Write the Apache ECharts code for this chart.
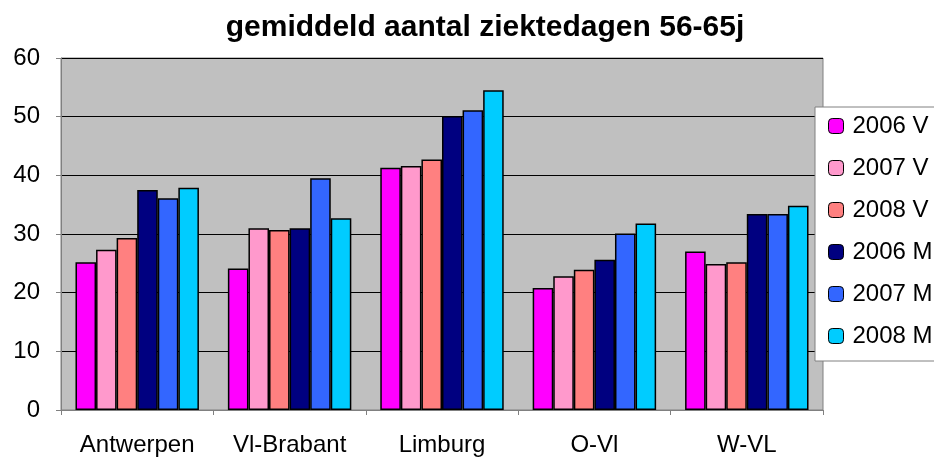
<!DOCTYPE html>
<html>
  <head>
    <meta charset="utf-8" />
    <title>gemiddeld aantal ziektedagen 56-65j</title>
    <script src="https://cdn.jsdelivr.net/npm/echarts@6/dist/echarts.min.js"></script>
    <style>
      body { margin: 0; background: #fff; }
      #chart { width: 934px; height: 461px; }
    </style>
  </head>
  <body>
    <div id="chart"></div>
    <script type="text/javascript">
      // categories (provinces) and series
      var regions = ['Antwerpen', 'Vl-Brabant', 'Limburg', 'O-Vl', 'W-VL'];
      var seriesNames = ['2006 V', '2007 V', '2008 V', '2006 M', '2007 M', '2008 M'];
      var colors = ['#ff00ff', '#ff99cc', '#ff8080', '#000080', '#3366ff', '#00ccff'];

      var v2006 = [25.2, 24.1, 41.3, 20.8, 27.0];
      var v2007 = [27.3, 31.0, 41.6, 22.8, 24.9];
      var v2008 = [29.3, 30.7, 42.7, 23.9, 25.2];
      var m2006 = [37.5, 31.0, 50.1, 25.6, 33.4];
      var m2007 = [36.1, 39.5, 51.1, 30.1, 33.4];
      var m2008 = [37.9, 32.7, 54.5, 31.8, 34.8];
      var values = [v2006, v2007, v2008, m2006, m2007, m2008];

      var font = 'Liberation Sans, Arial, sans-serif';

      var series = seriesNames.map(function (name, i) {
        return {
          name: name,
          type: 'bar',
          data: values[i],
          barGap: '0%',
          barCategoryGap: '19%',
          itemStyle: { color: colors[i], borderColor: '#000', borderWidth: 1.5 },
          emphasis: { disabled: true }
        };
      });

      var chart = echarts.init(document.getElementById('chart'));
      chart.setOption({
        animation: false,
        title: {
          text: 'gemiddeld aantal ziektedagen 56-65j',
          left: 480,
          top: 8,
          textAlign: 'center',
          textStyle: { fontFamily: font, fontSize: 30, fontWeight: 'bold', color: '#000' }
        },
        legend: {
          orient: 'vertical',
          left: 815,
          top: 107,
          itemWidth: 15,
          itemHeight: 15,
          itemGap: 18,
          padding: [7, 40, 13, 13],
          backgroundColor: '#fff',
          borderColor: '#808080',
          borderWidth: 1,
          textStyle: { fontFamily: font, fontSize: 24, color: '#000', lineHeight: 24, padding: [0, 0, 0, 4] },
          itemStyle: { borderWidth: 1, borderColor: '#000' }
        },
        grid: {
          left: 61,
          top: 58,
          right: 111,
          bottom: 51,
          show: true,
          backgroundColor: '#c0c0c0',
          borderColor: '#808080',
          borderWidth: 1
        },
        xAxis: {
          type: 'category',
          data: regions,
          axisLine: { lineStyle: { color: '#808080', width: 1 } },
          axisTick: { show: true, length: 5, lineStyle: { color: '#808080' } },
          axisLabel: { fontFamily: font, fontSize: 24, color: '#000', margin: 23 }
        },
        yAxis: {
          type: 'value',
          min: 0,
          max: 60,
          interval: 10,
          axisLine: { show: true, lineStyle: { color: '#808080', width: 1 } },
          axisTick: { show: true, length: 5, lineStyle: { color: '#808080' } },
          axisLabel: { fontFamily: font, fontSize: 24, color: '#000', margin: 21 },
          splitLine: { lineStyle: { color: '#000', width: 1 } }
        },
        series: series
      });
    </script>
  </body>
</html>
